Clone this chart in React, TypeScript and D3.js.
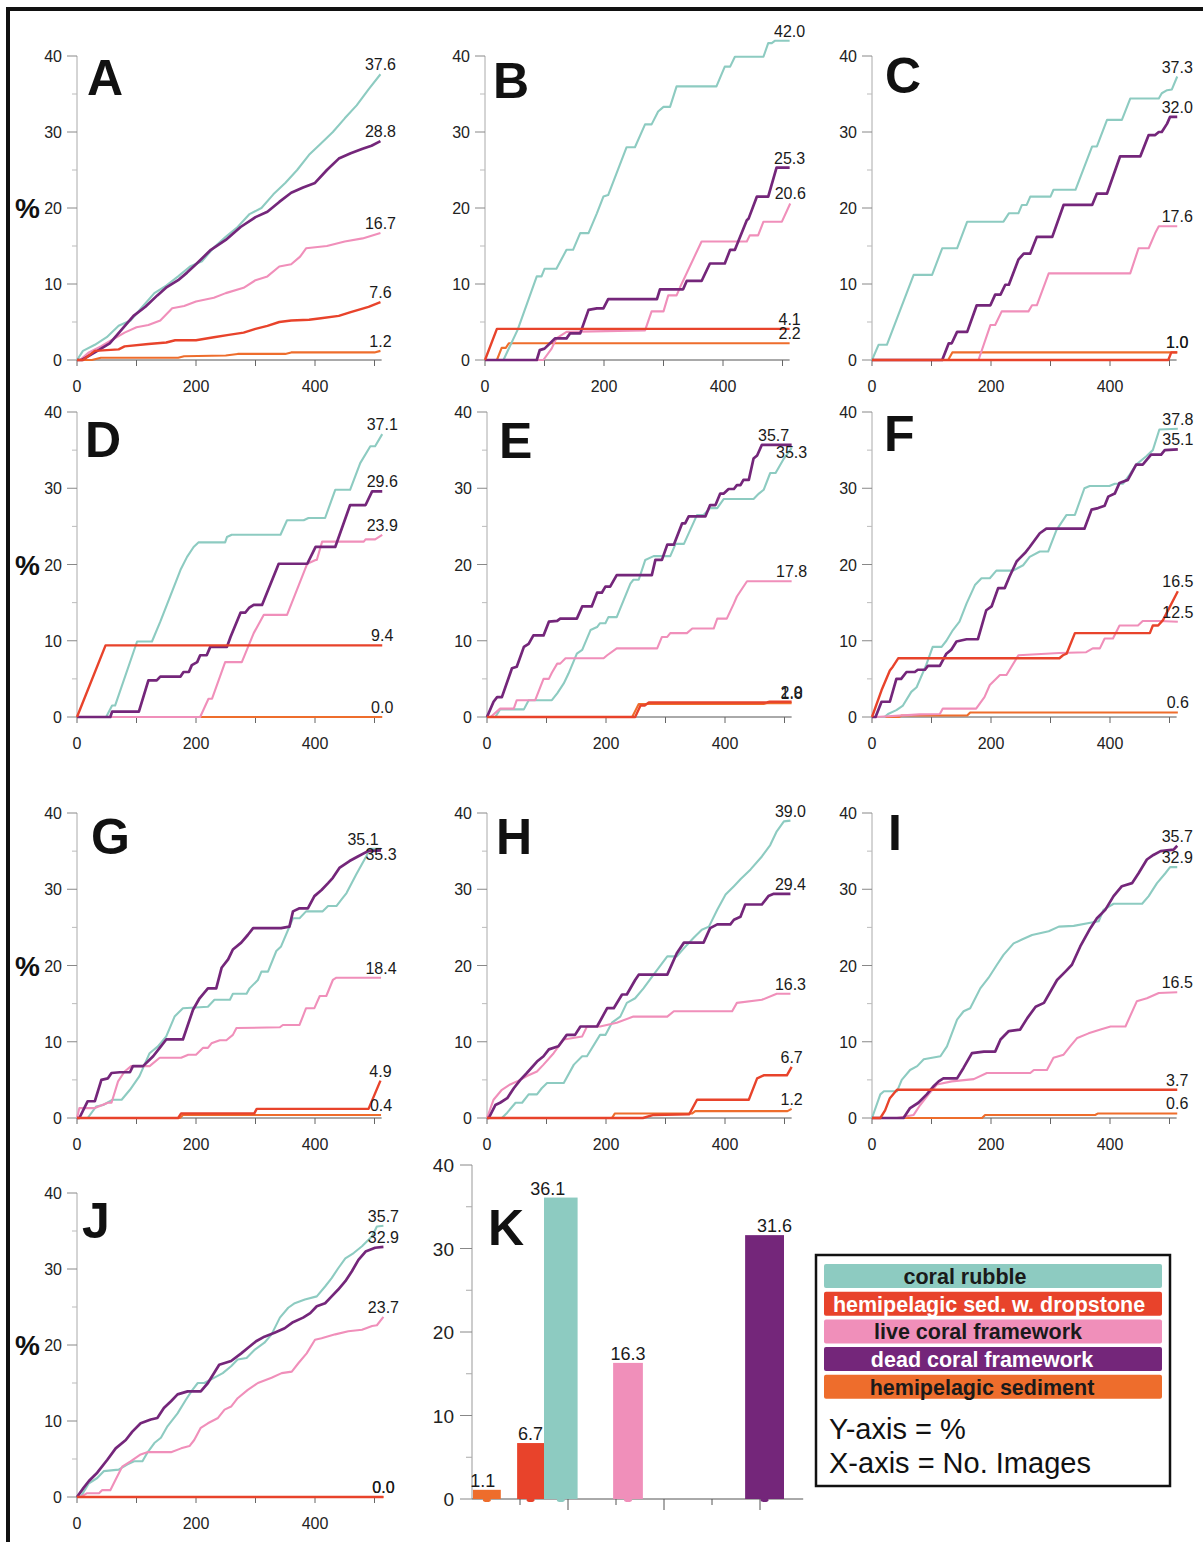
import React from "react";
import * as d3 from "d3";

type Pt = [number, number];

// ---------- series ----------
const seriesNames = [
  "coral rubble",
  "hemipelagic sed. w. dropstone",
  "live coral framework",
  "dead coral framework",
  "hemipelagic sediment",
];
const seriesColors = ["#8DCBC1", "#E8432B", "#F08FBA", "#74267A", "#EE6D2C"];
const legendTextColors = ["#1a1a1a", "#ffffff", "#1a1a1a", "#ffffff", "#1a1a1a"];

const yTicks = [0, 10, 20, 30, 40];
const yMinorTicks = [5, 15, 25, 35];
const xTicks = [0, 100, 200, 300, 400, 500];
const xTickLabels = [0, 200, 400];

// ---------- panel A ----------
const rubbleA: Pt[] = [[0,0],[10,1.2],[30,2],[50,3],[70,4.5],[90,5.2],[110,7],[130,8.8],[150,9.8],[170,11],[190,12.3],[210,13],[230,14.8],[250,16.2],[270,17.5],[290,19.2],[310,20],[330,21.8],[350,23.3],[370,25],[390,27],[410,28.5],[430,30],[450,31.8],[470,33.5],[490,35.6],[510,37.6]];
const dropA: Pt[] = [[0,0],[10,0],[30,1.2],[70,1.4],[80,1.8],[120,2.1],[150,2.3],[165,2.6],[200,2.6],[230,3],[255,3.3],[280,3.6],[300,4.1],[320,4.5],[340,5],[360,5.2],[390,5.3],[410,5.5],[440,5.8],[460,6.3],[490,7],[510,7.6]];
const liveA: Pt[] = [[0,0],[5,0],[20,1],[40,1.8],[60,2.7],[80,3.6],[100,4.3],[120,4.6],[140,5.2],[160,6.8],[180,7.1],[200,7.7],[230,8.2],[250,8.8],[280,9.5],[300,10.5],[320,11],[340,12.3],[360,12.6],[375,13.6],[385,14.7],[420,15],[450,15.6],[480,16],[510,16.7]];
const deadA: Pt[] = [[0,0],[8,0],[30,1],[55,2.2],[75,4],[95,5.8],[115,7],[135,8.5],[151,9.6],[170,10.5],[185,11.5],[200,12.6],[225,14.5],[250,15.8],[275,17.5],[300,18.8],[320,19.5],[340,20.8],[360,22],[380,22.7],[400,23.3],[420,25],[440,26.5],[460,27.2],[480,27.8],[495,28.2],[510,28.8]];
const sedA: Pt[] = [[0,0],[25,0],[40,0.3],[170,0.3],[180,0.5],[250,0.6],[270,0.8],[350,0.8],[360,1.0],[500,1.0],[510,1.2]];
const labelsA = [37.6, 7.6, 16.7, 28.8, 1.2];

// ---------- panel B ----------
const rubbleB: Pt[] = [[0,0],[31,0],[55,4],[87,11],[95,11],[100,12],[120,12],[137,14.5],[148,14.5],[160,16.7],[174,16.7],[188,19.3],[199,21.5],[207,21.7],[238,28],[252,28],[269,31],[280,31],[291,32.7],[300,33.3],[311,33.3],[322,36],[389,36],[403,38.6],[412,38.6],[420,39.9],[468,39.9],[476,41.7],[482,41.7],[487,42],[512,42]];
const dropB: Pt[] = [[0,0],[20,4.1],[512,4.1]];
const liveB: Pt[] = [[0,0],[98,0],[112,1.5],[120,2.85],[137,3.7],[269,3.9],[280,6.4],[300,6.4],[308,8.5],[322,8.5],[328,9.6],[364,15.6],[440,15.6],[445,16.4],[459,16.4],[468,18.2],[499,18.2],[513,20.6]];
const deadB: Pt[] = [[0,0],[87,0],[92,1.3],[100,1.5],[118,2.85],[137,2.85],[143,3.5],[160,3.5],[174,6.6],[188,6.8],[199,6.8],[207,8],[289,8],[294,9.3],[333,9.3],[339,10.4],[364,10.4],[378,12.7],[403,12.7],[412,14.5],[420,14.5],[440,18.4],[443,18.6],[457,21.5],[476,21.5],[490,25.3],[512,25.3]];
const sedB: Pt[] = [[0,0],[20,0],[28,1.6],[35,1.6],[40,2.2],[512,2.2]];
const labelsB = [42.0, 4.1, 20.6, 25.3, 2.2];

// ---------- panel C ----------
const rubbleC: Pt[] = [[0,0],[11,2],[25,2],[70,11.2],[101,11.2],[118,14.7],[143,14.7],[160,18.2],[221,18.2],[230,19.3],[246,19.3],[252,20.4],[260,20.4],[266,21.5],[300,21.5],[305,22.4],[342,22.4],[370,28.1],[378,28.1],[395,31.6],[420,31.6],[434,34.4],[482,34.4],[487,35.1],[496,35.5],[504,35.6],[513,37.3]];
const dropC: Pt[] = [[0,0],[498,0],[503,1],[513,1]];
const liveC: Pt[] = [[0,0],[179,0],[199,4.6],[207,4.6],[218,6.4],[263,6.4],[269,7.2],[277,7.2],[297,11.4],[434,11.4],[448,14.7],[465,14.7],[476,16.7],[482,17.6],[513,17.6]];
const deadC: Pt[] = [[0,0],[118,0],[129,2.2],[134,2.2],[143,3.7],[160,3.7],[176,7.2],[199,7.2],[207,8.6],[216,8.6],[224,9.9],[230,9.9],[246,13.2],[255,14],[266,14],[277,16.2],[303,16.2],[322,20.4],[370,20.4],[378,21.9],[395,21.9],[417,26.8],[451,26.8],[465,29.6],[476,29.6],[482,30],[487,30],[496,31.1],[501,32],[513,32]];
const sedC: Pt[] = [[0,0],[128,0],[135,1],[513,1]];
const labelsC = [37.3, 1.0, 17.6, 32.0, 1.0];

// ---------- panel D ----------
const rubbleD: Pt[] = [[0,0],[49,0],[59,1.5],[64,1.5],[101,9.9],[126,9.9],[140,12.5],[174,19.3],[185,21],[196,22.3],[204,22.9],[249,22.9],[252,23.6],[260,23.9],[342,23.9],[353,25.8],[381,25.8],[389,26.1],[417,26.1],[434,29.8],[459,29.8],[476,33.3],[493,35.5],[501,35.5],[513,37.1]];
const dropD: Pt[] = [[0,0],[48,9.4],[513,9.4]];
const liveD: Pt[] = [[0,0],[207,0],[221,2.4],[227,2.4],[249,7.2],[277,7.2],[297,11],[314,13.4],[353,13.4],[387,20.1],[401,20.6],[403,20.6],[412,23],[482,23],[485,23.3],[501,23.3],[513,23.9]];
const deadD: Pt[] = [[0,0],[56,0],[59,0.7],[104,0.7],[120,4.8],[134,4.8],[140,5.3],[174,5.3],[179,5.9],[188,5.9],[193,6.8],[202,7.2],[207,8.1],[218,8.1],[224,9.2],[252,9.2],[258,10.5],[275,13.7],[283,13.7],[289,14.3],[297,14.7],[311,14.7],[339,20.1],[387,20.1],[401,22.3],[434,22.3],[459,27.8],[485,27.8],[496,29.6],[513,29.6]];
const sedD: Pt[] = [[0,0],[513,0]];
const labelsD = [37.1, 9.4, 23.9, 29.6, 0.0];

// ---------- panel E ----------
const rubbleE: Pt[] = [[0,0],[14,0],[22,1],[62,1],[70,2.2],[109,2.2],[118,3.1],[129,4.4],[137,5.7],[151,8.3],[160,8.8],[174,11.4],[185,11.8],[190,12.3],[199,12.3],[204,13.1],[218,13.1],[241,17.5],[246,18],[255,18],[266,20.6],[280,21.1],[308,21.1],[317,22.7],[331,22.7],[353,26.5],[364,26.5],[375,27.4],[387,27.4],[398,28.6],[448,28.6],[457,29.3],[465,29.8],[476,32],[485,32],[499,33.9],[512,35.3]];
const dropE: Pt[] = [[0,0],[249,0],[258,1.5],[265,1.5],[272,1.9],[470,1.9],[475,2.0],[512,2.0]];
const liveE: Pt[] = [[0,0],[6,0],[22,1.1],[45,1.1],[50,2.2],[81,2.2],[95,5],[104,5],[109,5.8],[118,7],[123,7],[132,7.7],[196,7.7],[202,8.1],[218,9],[286,9],[294,10.5],[303,10.5],[308,11],[336,11],[345,11.6],[381,11.6],[387,12.9],[403,12.9],[415,14.9],[420,15.8],[437,17.8],[512,17.8]];
const deadE: Pt[] = [[0,0],[11,2],[17,2.6],[25,2.6],[42,6.4],[50,6.6],[62,9.2],[70,9.6],[78,10.7],[95,10.7],[104,12.5],[118,12.6],[123,12.9],[151,12.9],[160,14.5],[176,14.5],[185,16.3],[193,16.3],[199,17.1],[207,17.1],[218,18.6],[277,18.6],[283,20.6],[294,20.6],[303,22.6],[314,22.6],[328,25.4],[333,25.4],[339,26.3],[367,26.3],[375,27.8],[384,27.8],[392,29.3],[398,29.3],[406,29.9],[415,29.9],[420,30.4],[426,30.4],[431,31.1],[440,31.1],[448,33.9],[454,34.3],[462,35.7],[512,35.7]];
const sedE: Pt[] = [[0,0],[244,0],[255,1.7],[465,1.7],[470,1.8],[512,1.8]];
const labelsE = [35.3, 2.0, 17.8, 35.7, 1.8];

// ---------- panel F ----------
const rubbleF: Pt[] = [[0,0],[21,0],[27,0.4],[41,0.9],[52,1.5],[66,3.3],[75,3.9],[91,6.8],[102,9.2],[117,9.2],[125,10],[136,11.4],[147,12.5],[159,14.9],[173,17.3],[184,18.2],[198,18.2],[209,19.2],[237,19.2],[254,19.9],[265,21],[282,21.7],[296,21.7],[310,24.5],[327,26.5],[341,26.5],[357,30],[366,30.3],[399,30.3],[408,30.6],[422,30.6],[433,31.8],[444,33.1],[461,34.2],[472,35],[483,37.7],[514,37.8]];
const dropF: Pt[] = [[0,0],[16,3.5],[30,6.1],[35,6.6],[44,7.7],[315,7.7],[321,8.1],[327,8.3],[341,11],[467,11],[472,12],[481,12],[489,12.7],[514,16.5]];
const liveF: Pt[] = [[0,0],[7,0],[80,0.35],[114,0.4],[119,1.1],[175,1.1],[189,2.6],[198,4.2],[215,5.5],[226,5.5],[246,8.1],[315,8.4],[360,8.5],[371,9],[383,9],[391,10.3],[405,10.3],[416,12],[447,12],[455,12.6],[483,12.6],[514,12.5]];
const deadF: Pt[] = [[0,0],[6,0],[16,2],[30,2],[41,5],[49,5],[58,5.9],[72,5.9],[77,6.2],[89,6.2],[94,6.7],[114,6.7],[125,8.3],[133,8.8],[142,9.9],[159,10.2],[178,10.2],[192,14],[201,14.5],[212,16.9],[223,16.9],[231,18.4],[243,20.4],[248,20.8],[257,21.5],[265,22.3],[282,24.1],[293,24.7],[357,24.7],[369,27.2],[380,27.4],[391,27.7],[397,28.9],[408,29.3],[416,30.7],[430,31.1],[444,33.1],[455,33.1],[469,34.4],[486,34.4],[492,35],[514,35.1]];
const sedF: Pt[] = [[0,0],[45,0],[50,0.2],[160,0.2],[165,0.6],[514,0.6]];
const labelsF = [37.8, 16.5, 12.5, 35.1, 0.6];

// ---------- panel G ----------
const rubbleG: Pt[] = [[0,0],[18,0],[32,1.5],[44,1.7],[60,2.4],[75,2.4],[89,3.7],[105,5.5],[122,8.5],[136,9.4],[150,10.7],[164,13.3],[178,14.4],[220,14.6],[231,15.5],[257,15.5],[262,16.3],[285,16.3],[290,17],[304,18.1],[310,19.2],[321,19.2],[335,21.9],[343,22.5],[363,26.2],[374,26.2],[385,27.1],[413,27.1],[422,27.8],[436,27.8],[444,28.6],[453,29.5],[469,31.9],[486,34.3],[492,35.3],[511,35.3]];
const dropG: Pt[] = [[0,0],[170,0],[175,0.6],[298,0.6],[302,1.2],[490,1.2],[510,4.9]];
const liveG: Pt[] = [[0,0],[4,1.3],[30,1.3],[52,2],[58,2],[69,4.8],[80,6.1],[91,6.8],[122,6.8],[139,7.9],[175,7.9],[187,8.3],[200,8.3],[212,9.2],[220,9.2],[226,9.8],[240,10.2],[251,10.2],[262,10.9],[268,11.8],[341,11.9],[346,12.2],[374,12.2],[385,14.4],[399,14.4],[408,16],[419,16],[430,18.1],[436,18.4],[511,18.4]];
const deadG: Pt[] = [[0,0],[4,0],[18,2.2],[30,2.2],[41,5],[52,5.2],[58,5.9],[72,6],[89,6],[94,6.8],[111,6.8],[128,8.1],[139,9.2],[150,10.3],[178,10.3],[195,14.2],[206,15.7],[220,17],[234,17],[243,19.7],[254,20.8],[262,22.1],[276,23],[287,24],[296,24.9],[343,24.9],[357,25.1],[363,27.1],[374,27.5],[388,27.5],[399,29.1],[411,29.9],[422,30.8],[430,31.5],[441,32.8],[458,33.7],[472,34.3],[489,35],[511,35.1]];
const sedG: Pt[] = [[0,0],[173,0],[178,0.4],[511,0.4]];
const labelsG = [35.3, 4.9, 18.4, 35.1, 0.4];

// ---------- panel H ----------
const rubbleH: Pt[] = [[0,0],[25,0],[34,0.7],[48,2],[59,2],[70,3.1],[84,3.1],[92,3.9],[101,4.6],[129,4.6],[146,7],[160,8.1],[168,8.1],[190,10.9],[199,10.9],[210,12.5],[224,13.3],[235,15.1],[249,15.7],[263,17],[280,18.8],[303,21.2],[319,21.2],[336,22.7],[347,23.6],[361,24.7],[373,25.1],[387,27.3],[401,29.3],[415,30.4],[426,31.3],[443,32.6],[462,34.3],[476,35.8],[487,37.6],[499,38.9],[510,39]];
const dropH: Pt[] = [[0,0],[262,0],[280,0.4],[340,0.5],[353,2.4],[440,2.4],[454,5.2],[465,5.6],[504,5.6],[512,6.7]];
const liveH: Pt[] = [[0,0],[11,2.4],[25,3.7],[39,4.4],[56,5],[67,5.5],[84,6.1],[95,7],[112,8.5],[129,10.3],[160,10.7],[168,12],[190,12],[218,12.5],[246,13.3],[303,13.3],[314,14],[412,14],[420,15.1],[462,15.5],[487,16.3],[510,16.3]];
const deadH: Pt[] = [[0,0],[3,0],[14,1.7],[22,2],[34,2.6],[45,3.9],[56,5],[67,5.9],[84,7.4],[95,8.1],[104,9],[120,9.4],[134,10.9],[148,10.9],[157,12],[185,12],[202,14.4],[213,14.4],[227,16.2],[235,16.2],[249,18.1],[255,18.8],[303,18.8],[319,21.6],[331,23],[364,23],[375,24.9],[387,25.4],[409,25.4],[415,26],[426,26.4],[434,28],[462,28],[473,29.1],[482,29.4],[510,29.4]];
const sedH: Pt[] = [[0,0],[210,0],[215,0.6],[345,0.6],[350,0.9],[505,0.9],[512,1.2]];
const labelsH = [39.0, 6.7, 16.3, 29.4, 1.2];

// ---------- panel I ----------
const rubbleI: Pt[] = [[0,0],[14,3.1],[20,3.5],[42,3.5],[50,5],[64,6.3],[76,6.8],[87,7.7],[115,8.1],[126,9.4],[143,12.9],[154,14],[165,14.4],[182,17],[196,18.4],[210,20.1],[221,21.4],[238,22.9],[252,23.4],[269,24],[297,24.5],[314,25.1],[339,25.2],[367,25.6],[381,25.8],[389,27.3],[406,28.1],[454,28.1],[465,29.1],[479,30.8],[493,32.1],[501,32.9],[513,32.9]];
const dropI: Pt[] = [[0,0],[14,0],[22,1],[30,2.6],[42,3.7],[513,3.7]];
const liveI: Pt[] = [[0,0],[42,0],[70,0.4],[81,1.7],[95,3.1],[109,4.4],[134,4.8],[171,5.1],[193,5.9],[266,5.9],[272,6.3],[294,6.3],[305,7.9],[322,8.3],[333,9.4],[345,10.5],[364,11.1],[384,11.6],[401,12],[426,12],[445,15.3],[462,15.7],[482,16.4],[513,16.5]];
const deadI: Pt[] = [[0,0],[53,0],[64,1.3],[78,2],[92,3.1],[104,4.2],[112,4.8],[120,5.2],[143,5.2],[154,6.6],[168,8.5],[188,8.7],[207,8.7],[216,10.3],[230,11.4],[249,11.6],[261,13.1],[275,14.6],[289,15.1],[311,18.1],[325,19.2],[336,20.1],[350,22.5],[367,24.9],[378,26.2],[392,27.3],[406,29.1],[420,30.4],[437,30.8],[448,32.1],[462,33.9],[473,34.5],[485,35],[507,35.2],[513,35.7]];
const sedI: Pt[] = [[0,0],[185,0],[190,0.4],[375,0.4],[380,0.6],[513,0.6]];
const labelsI = [32.9, 3.7, 16.5, 35.7, 0.6];

// ---------- panel J ----------
const rubbleJ: Pt[] = [[0,0],[6,0],[20,1.8],[34,2.5],[45,3.4],[70,3.6],[85,4.3],[96,4.7],[110,4.7],[118,5.8],[130,7.1],[141,7.8],[152,9.3],[169,11],[183,12.8],[194,14.1],[203,15],[214,15],[231,15.7],[245,16.3],[259,17.2],[270,18.1],[285,18.3],[299,19.4],[315,20.3],[327,21.4],[341,23.6],[355,24.9],[366,25.5],[383,26],[403,26.4],[417,27.7],[428,28.8],[439,30.1],[451,31.4],[465,32.1],[479,33],[496,34.3],[504,35.6],[515,35.7]];
const dropJ: Pt[] = [[0,0],[515,0]];
const liveJ: Pt[] = [[0,0],[6,0],[17,0.5],[37,0.5],[42,0.9],[56,0.9],[65,2.3],[76,4],[90,4.7],[107,5.6],[118,5.9],[158,5.9],[175,6.4],[189,6.7],[197,7.5],[208,9.1],[220,9.7],[237,10.4],[248,11.5],[259,11.9],[270,13],[287,14.1],[304,15],[327,15.7],[344,16.3],[361,16.5],[372,17.6],[386,18.9],[400,20.7],[411,20.9],[434,21.4],[456,21.8],[479,22],[496,22.5],[504,22.6],[515,23.7]];
const deadJ: Pt[] = [[0,0],[11,1.2],[20,2.1],[34,3.2],[51,4.9],[65,6.4],[82,7.5],[93,8.6],[107,9.7],[124,10.2],[135,10.4],[146,11.7],[158,12.6],[169,13.5],[186,13.9],[208,13.9],[220,15],[239,17.4],[259,17.9],[276,18.9],[287,19.6],[301,20.5],[315,21.1],[332,21.6],[349,22.2],[363,23],[380,23.6],[392,24.2],[403,25.1],[417,25.5],[428,26.4],[439,27.3],[451,28.4],[462,29.7],[473,31.2],[485,32.3],[501,32.8],[515,32.9]];
const sedJ: Pt[] = [[0,0],[515,0]];
const labelsJ = [35.7, 0.0, 23.7, 32.9, 0.0];

// ---------- panel K (bar chart) ----------
const kValues = [1.1, 6.7, 36.1, 16.3, 31.6];
const kSeriesIndex = [4, 1, 0, 2, 3]; // which series colour each bar uses
const kBarStart = [0.02, 0.94, 1.5, 2.94, 5.69];
const kBarEnd = [0.6, 1.5, 2.2, 3.56, 6.5];
const kXTicks = [1, 2, 3, 4, 5, 6];

// ---------- layout ----------
const FONT = "'Liberation Sans', Arial, Helvetica, sans-serif";
const PX_PER_UNIT = 0.595;

interface PanelCfg {
  id: string;
  ax: number;
  y0: number;
  y40: number;
  lx: number;
  ly: number;
  pct: boolean;
  series: Pt[][];
  labels: number[];
  shifts?: Record<number, [number, number]>;
}

const panels: PanelCfg[] = [
  { id: "A", ax: 77, y0: 360, y40: 56, lx: 10, ly: 39, pct: true, series: [rubbleA, dropA, liveA, deadA, sedA], labels: labelsA },
  { id: "B", ax: 485, y0: 360, y40: 56, lx: 8, ly: 42, pct: false, series: [rubbleB, dropB, liveB, deadB, sedB], labels: labelsB },
  { id: "C", ax: 872, y0: 360, y40: 56, lx: 13, ly: 37, pct: false, series: [rubbleC, dropC, liveC, deadC, sedC], labels: labelsC },
  { id: "D", ax: 77, y0: 717, y40: 412, lx: 8, ly: 45, pct: true, series: [rubbleD, dropD, liveD, deadD, sedD], labels: labelsD },
  { id: "E", ax: 487, y0: 717, y40: 412, lx: 12, ly: 46, pct: false, series: [rubbleE, dropE, liveE, deadE, sedE], labels: labelsE, shifts: { 0: [0, 14], 3: [-18, 0] } },
  { id: "F", ax: 872, y0: 717, y40: 412, lx: 12, ly: 39, pct: false, series: [rubbleF, dropF, liveF, deadF, sedF], labels: labelsF },
  { id: "G", ax: 77, y0: 1118, y40: 813, lx: 14, ly: 41, pct: true, series: [rubbleG, dropG, liveG, deadG, sedG], labels: labelsG, shifts: { 0: [0, 15], 3: [-18, -1] } },
  { id: "H", ax: 487, y0: 1118, y40: 813, lx: 9, ly: 41, pct: false, series: [rubbleH, dropH, liveH, deadH, sedH], labels: labelsH },
  { id: "I", ax: 872, y0: 1118, y40: 813, lx: 16, ly: 37, pct: false, series: [rubbleI, dropI, liveI, deadI, sedI], labels: labelsI },
  { id: "J", ax: 77, y0: 1497, y40: 1193, lx: 5, ly: 45, pct: true, series: [rubbleJ, dropJ, liveJ, deadJ, sedJ], labels: labelsJ },
];

const drawOrder = [4, 0, 2, 3, 1];
const strokeWidths = [2.1, 2.4, 2.1, 2.7, 2.1];
const legendTextX = [965, 989, 978, 982, 982];

function LinePanel({ p }: { p: PanelCfg }) {
  const x = d3.scaleLinear().domain([0, 500]).range([p.ax, p.ax + 500 * PX_PER_UNIT]);
  const y = d3.scaleLinear().domain([0, 40]).range([p.y0, p.y40]);
  const line = d3.line<Pt>().x((d) => x(d[0])).y((d) => y(d[1]));
  const xEnd = x(512);
  return (
    <g>
      <line x1={p.ax} x2={p.ax} y1={p.y0} y2={p.y40} stroke="#aaa" strokeWidth={1} />
      {yTicks.map((t) => (
        <g key={"yt" + t}>
          <line x1={p.ax - 10} x2={p.ax} y1={y(t)} y2={y(t)} stroke="#888" strokeWidth={1} />
          <text x={p.ax - 15} y={y(t) + 6} textAnchor="end" fontSize={16} fill="#222" fontFamily={FONT}>{t}</text>
        </g>
      ))}
      {yMinorTicks.map((t) => (
        <line key={"ym" + t} x1={p.ax - 5} x2={p.ax} y1={y(t)} y2={y(t)} stroke="#bbb" strokeWidth={1} />
      ))}
      <line x1={p.ax} x2={xEnd} y1={p.y0} y2={p.y0} stroke="#555" strokeWidth={1} />
      {xTicks.map((t) => (
        <line key={"xt" + t} x1={x(t)} x2={x(t)} y1={p.y0} y2={p.y0 + 6} stroke="#666" strokeWidth={1} />
      ))}
      {xTickLabels.map((t) => (
        <text key={"xl" + t} x={x(t)} y={p.y0 + 32} textAnchor="middle" fontSize={16} fill="#222" fontFamily={FONT}>{t}</text>
      ))}
      {drawOrder.map((si) => (
        <path key={"s" + si} d={line(p.series[si]) || ""} fill="none" stroke={seriesColors[si]} strokeWidth={strokeWidths[si]} strokeLinejoin="round" />
      ))}
      {p.labels.map((v, si) => {
        const pts = p.series[si];
        const last = pts[pts.length - 1];
        const sh = (p.shifts && p.shifts[si]) || [0, 0];
        return (
          <text key={"lb" + si} x={x(last[0]) + sh[0]} y={y(v) - 4 + sh[1]} textAnchor="middle" fontSize={16} fill="#1a1a1a" fontFamily={FONT}>
            {v.toFixed(1)}
          </text>
        );
      })}
      <text x={p.ax + p.lx} y={p.y40 + p.ly} fontSize={50} fontWeight="bold" fill="#111" fontFamily={FONT}>{p.id}</text>
      {p.pct && (
        <text x={40} y={y(20) + 10} textAnchor="end" fontSize={28} fontWeight="bold" fill="#111" fontFamily={FONT}>%</text>
      )}
    </g>
  );
}

function BarPanel() {
  const ax = 472;
  const x = d3.scaleLinear().domain([0, 6.9]).range([ax, ax + 6.9 * 48]);
  const y = d3.scaleLinear().domain([0, 40]).range([1499, 1165]);
  const labelDx = [-4, 0, -13, 0, 10];
  return (
    <g>
      <line x1={ax} x2={ax} y1={y(0)} y2={y(40)} stroke="#999" strokeWidth={1} />
      {yTicks.map((t) => (
        <g key={"kt" + t}>
          <line x1={ax - 12} x2={ax} y1={y(t)} y2={y(t)} stroke="#888" strokeWidth={1} />
          <text x={ax - 18} y={y(t) + 7} textAnchor="end" fontSize={19} fill="#222" fontFamily={FONT}>{t}</text>
        </g>
      ))}
      {yMinorTicks.map((t) => (
        <line key={"km" + t} x1={ax - 6} x2={ax} y1={y(t)} y2={y(t)} stroke="#aaa" strokeWidth={1} />
      ))}
      <line x1={ax} x2={x(6.9)} y1={y(0)} y2={y(0)} stroke="#555" strokeWidth={1} />
      {kXTicks.map((t) => (
        <line key={"kx" + t} x1={x(t)} x2={x(t)} y1={y(0)} y2={y(0) + (t % 2 === 0 ? 11 : 6)} stroke="#555" strokeWidth={1} />
      ))}
      {kValues.map((v, i) => {
        const c = seriesColors[kSeriesIndex[i]];
        const x0 = x(kBarStart[i]);
        const x1 = x(kBarEnd[i]);
        return (
          <g key={"kb" + i}>
            <rect x={x0} y={y(v)} width={x1 - x0} height={y(0) - y(v)} fill={c} />
            <ellipse cx={(x0 + x1) / 2} cy={y(0) + 1} rx={4} ry={2} fill={c} />
            <text x={(x0 + x1) / 2 + labelDx[i]} y={y(v) - 3} textAnchor="middle" fontSize={18} fill="#1a1a1a" fontFamily={FONT}>{v.toFixed(1)}</text>
          </g>
        );
      })}
      <text x={488} y={1245} fontSize={50} fontWeight="bold" fill="#111" fontFamily={FONT}>K</text>
    </g>
  );
}

function Legend() {
  const rowY = d3.range(seriesNames.length).map((i) => 1264 + i * 27.7);
  return (
    <g>
      <rect x={816} y={1255} width={354} height={231} fill="#fff" stroke="#111" strokeWidth={2.5} />
      {seriesNames.map((n, i) => (
        <g key={"lg" + i}>
          <rect x={824} y={rowY[i]} width={338} height={24} rx={2} fill={seriesColors[i]} />
          <text x={legendTextX[i]} y={rowY[i] + 20} textAnchor="middle" fontSize={21.5} fontWeight="bold" fill={legendTextColors[i]} fontFamily={FONT}>{n}</text>
        </g>
      ))}
      <text x={829} y={1439} fontSize={29} fill="#111" fontFamily={FONT}>Y-axis = %</text>
      <text x={829} y={1473} fontSize={29} fill="#111" fontFamily={FONT}>X-axis = No. Images</text>
    </g>
  );
}

export default function App() {
  return (
    <svg
      width={1203}
      height={1542}
      viewBox="0 0 1203 1542"
      style={{ position: "absolute", left: 0, top: 0, display: "block", background: "#fff" }}
    >
      <rect x={0} y={0} width={1203} height={1542} fill="#fff" />
      <path d="M 8 1542 V 9 H 1203" fill="none" stroke="#111" strokeWidth={4} />
      {panels.map((p) => (
        <LinePanel key={p.id} p={p} />
      ))}
      <BarPanel />
      <Legend />
    </svg>
  );
}
